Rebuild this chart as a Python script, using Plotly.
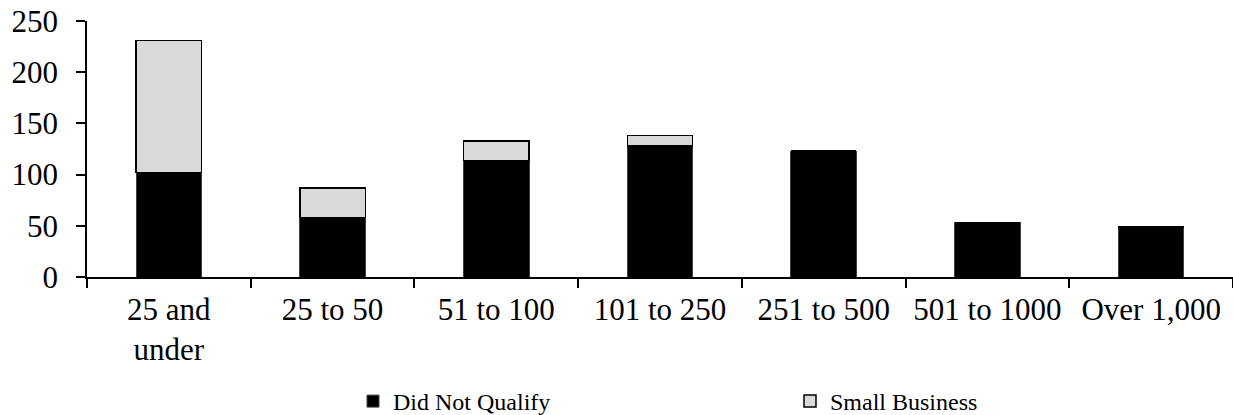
import plotly.graph_objects as go

categories = ["25 and<br>under", "25 to 50", "51 to 100", "101 to 250", "251 to 500", "501 to 1000", "Over 1,000"]
did_not_qualify = [102, 58, 114, 128, 123, 53, 49]
small_business = [129, 29, 19, 10, 0, 0, 0]
y_ticks = [0, 50, 100, 150, 200, 250]

FONT = "Times New Roman, Liberation Serif, serif"

fig = go.Figure()
fig.add_trace(go.Bar(
    x=categories, y=did_not_qualify, name="Did Not Qualify", legend="legend",
    marker=dict(color="#000000", line=dict(color="#404040", width=1)),
))
fig.add_trace(go.Bar(
    x=categories, y=small_business, name="Small Business", legend="legend2",
    marker=dict(color="#d9d9d9", line=dict(color="#000000", width=1.5)),
))

PLOT_L, PLOT_W, PLOT_T, PLOT_H = 87, 1146, 21, 256

def px_to_paper_x(px):
    return (px - PLOT_L) / PLOT_W

def px_to_paper_y(py):
    return (PLOT_T + PLOT_H - py) / PLOT_H

legend_common = dict(
    orientation="h", xanchor="left", yanchor="bottom",
    font=dict(family=FONT, size=24, color="#000000"),
    itemwidth=30, bgcolor="rgba(0,0,0,0)", borderwidth=0,
)

fig.update_layout(
    barmode="stack",
    bargap=0.6,
    width=1233, height=415,
    margin=dict(l=PLOT_L, r=1233 - PLOT_L - PLOT_W, t=PLOT_T, b=415 - PLOT_T - PLOT_H, autoexpand=False),
    paper_bgcolor="white", plot_bgcolor="white",
    font=dict(family=FONT, size=31, color="#000000"),
    legend=dict(legend_common, x=px_to_paper_x(353), y=px_to_paper_y(424)),
    legend2=dict(legend_common, x=px_to_paper_x(790), y=px_to_paper_y(424)),
    showlegend=True,
)
fig.update_xaxes(
    type="category", showline=True, linecolor="#000000", linewidth=1.5,
    ticks="outside", tickson="boundaries", ticklen=9, tickcolor="#000000", tickwidth=1.5,
    showgrid=False, zeroline=False, automargin=False, ticklabelstandoff=4,
    tickfont=dict(family=FONT, size=31, color="#000000"),
)
fig.update_yaxes(
    range=[0, 250], tickvals=y_ticks, showline=True, linecolor="#000000", linewidth=1.5,
    ticks="outside", ticklen=9, tickcolor="#000000", tickwidth=1.5,
    showgrid=False, zeroline=False, ticklabelstandoff=12, automargin=False,
    tickfont=dict(family=FONT, size=31, color="#000000"),
)

fig.write_html(
    "out.html",
    config={"displayModeBar": False},
    post_script="document.body.style.margin='0px';document.body.style.padding='0px';",
)
